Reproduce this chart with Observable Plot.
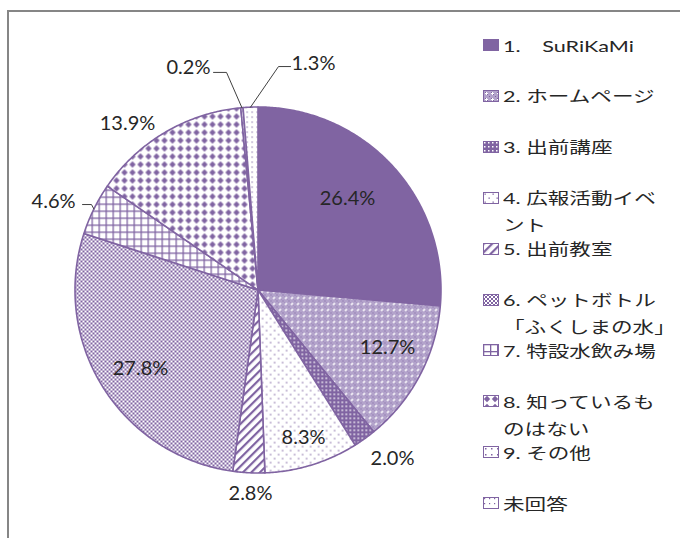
<!DOCTYPE html>
<html><head><meta charset="utf-8">
<script src="https://cdn.jsdelivr.net/npm/d3@7"></script>
<script src="https://cdn.jsdelivr.net/npm/@observablehq/plot@0.6"></script>
<style>
html,body{margin:0;padding:0;background:#fff;overflow:hidden;}
#wrap{position:relative;width:680px;height:538px;overflow:hidden;}
#frame{position:absolute;left:7px;top:10px;width:720px;height:600px;border:2px solid #868686;box-sizing:border-box;}
#chart{position:absolute;left:0;top:0;}
#legend{position:absolute;left:483px;top:0;}
.item{position:absolute;left:0;height:12px;}
.sw{position:absolute;left:0;top:0;display:block;}
.lab{position:absolute;left:20px;top:-7.5px;white-space:pre;font-family:Lato,'Noto Sans CJK JP',sans-serif;font-size:16px;font-weight:400;line-height:27px;transform:scaleX(1.35);transform-origin:0 0;color:#262626;}
</style></head>
<body>
<div id="wrap"><div id="frame"></div><div id="chart"></div><div id="legend"></div></div>
<script>
// ---- data ----
const categories = ["1.\u3000SuRiKaMi", "2. ホームページ", "3. 出前講座", "4. 広報活動イベ\nント", "5. 出前教室", "6. ペットボトル\n「ふくしまの水」", "7. 特設水飲み場", "8. 知っているも\nのはない", "9. その他", "未回答"];
const values = [26.4, 12.7, 2.0, 8.3, 2.8, 27.8, 4.6, 13.9, 0.2, 1.3];
const valueLabels = values.map(v => v.toFixed(1) + "%");

// ---- layout (label placement in pie-radius units, relative to centre) ----
const labelPos = [[0.489,0.500],[0.708,-0.314],[0.735,-0.921],[0.249,-0.806],[-0.041,-1.112],[-0.642,-0.429],[-1.117,0.484],[-0.713,0.910],[-0.380,1.216],[0.303,1.238]];
const leaders = {6: [[-0.910,0.467],[-0.959,0.467]], 8: [[-0.172,1.189],[-0.243,1.189]], 9: [[0.112,1.221],[0.178,1.221]]};

const PURPLE = "#8064A2";
const W = 470, H = 538, CX = 257.5, CY = 289.5, R = 183;

const total = d3.sum(values);
let acc = 0;
const slicePts = [], mids = [];
values.forEach((v, i) => {
  const a0 = acc / total * 2 * Math.PI; acc += v; const a1 = acc / total * 2 * Math.PI;
  mids.push((a0 + a1) / 2);
  const n = Math.max(2, Math.ceil((a1 - a0) / (Math.PI / 360)));
  slicePts.push({k: i, x: 0, y: 0});
  for (let j = 0; j <= n; j++) { const a = a0 + (a1 - a0) * j / n; slicePts.push({k: i, x: Math.sin(a), y: Math.cos(a)}); }
  slicePts.push({k: i, x: 0, y: 0});
});
const labelData = values.map((v, i) => ({x: labelPos[i][0], y: labelPos[i][1], t: valueLabels[i]}));
const leaderPts = [];
Object.entries(leaders).forEach(([k, pts]) => {
  const m = mids[+k];
  leaderPts.push({k: +k, x: Math.sin(m), y: Math.cos(m)});
  pts.forEach(p => leaderPts.push({k: +k, x: p[0], y: p[1]}));
});

const chart = Plot.plot({
  width: W, height: H, margin: 0,
  style: {background: "none", overflow: "visible"},
  x: {domain: [-CX / R, (W - CX) / R], axis: null},
  y: {domain: [-(H - CY) / R, CY / R], axis: null},
  color: {type: "identity"},
  marks: [
    Plot.line(slicePts, {x: "x", y: "y", z: "k", fill: d => `url(#p${d.k})`, stroke: PURPLE, strokeWidth: 1.6, strokeLinejoin: "round", curve: "linear"}),
    Plot.line(leaderPts, {x: "x", y: "y", z: "k", stroke: "#404040", strokeWidth: 1}),
    Plot.text(labelData, {x: "x", y: "y", text: "t", fontSize: 20, fontFamily: "Lato, sans-serif", fill: "#262626"})
  ]
});

const defs = `<defs>
<pattern id="p0" patternUnits="userSpaceOnUse" width="4" height="4"><rect width="4" height="4" fill="${PURPLE}"/></pattern>
<pattern id="p1" patternUnits="userSpaceOnUse" width="6" height="6"><rect width="6" height="6" fill="#b3a3cb"/><rect x="0" y="0" width="1" height="1" fill="${PURPLE}"/><rect x="2" y="2" width="1" height="1" fill="${PURPLE}"/><rect x="4" y="4" width="1" height="1" fill="${PURPLE}"/><rect x="3" y="2" width="1" height="3" fill="#fff"/><rect x="2" y="3" width="3" height="1" fill="#fff"/></pattern>
<pattern id="p2" patternUnits="userSpaceOnUse" width="4" height="4"><rect width="4" height="4" fill="${PURPLE}"/><rect x="1" y="1" width="1.5" height="1.5" fill="#fff"/></pattern>
<pattern id="p3" patternUnits="userSpaceOnUse" width="8" height="8"><rect width="8" height="8" fill="#fff"/><rect x="1.5" y="1.5" width="1.3" height="1.3" fill="${PURPLE}"/><rect x="5.5" y="5.5" width="1.3" height="1.3" fill="${PURPLE}"/></pattern>
<pattern id="p4" patternUnits="userSpaceOnUse" width="6" height="6" patternTransform="rotate(45)"><rect width="6" height="6" fill="#fff"/><rect x="0" y="0" width="2.2" height="6" fill="${PURPLE}"/></pattern>
<pattern id="p5" patternUnits="userSpaceOnUse" width="4" height="4"><rect width="4" height="4" fill="#fff"/><rect x="0" y="0" width="2" height="2" fill="${PURPLE}"/><rect x="2" y="2" width="2" height="2" fill="${PURPLE}"/></pattern>
<pattern id="p6" patternUnits="userSpaceOnUse" width="7" height="7"><rect width="7" height="7" fill="#fff"/><rect x="0" y="0" width="7" height="1.3" fill="${PURPLE}"/><rect x="0" y="0" width="1.3" height="7" fill="${PURPLE}"/></pattern>
<pattern id="p7" patternUnits="userSpaceOnUse" width="8" height="8"><rect width="8" height="8" fill="#fff"/><polygon points="4,0.8 7.2,4 4,7.2 0.8,4" fill="${PURPLE}"/></pattern>
<pattern id="p8" patternUnits="userSpaceOnUse" width="6" height="6"><rect width="6" height="6" fill="#fff"/><rect x="2" y="2" width="1.5" height="1.5" fill="${PURPLE}"/></pattern>
<pattern id="p9" patternUnits="userSpaceOnUse" width="5" height="5"><rect width="5" height="5" fill="#fff"/><rect x="1" y="1" width="1.2" height="1.2" fill="${PURPLE}"/></pattern>
</defs>`;
chart.insertAdjacentHTML("afterbegin", defs);
document.getElementById("chart").appendChild(chart);

// ---- legend ----
const legend = document.getElementById("legend");
categories.forEach((c, i) => {
  const item = document.createElement("div");
  item.className = "item";
  item.style.top = (39 + i * 50.9) + "px";
  item.innerHTML = `<svg class="sw" width="16" height="12"><rect x="0.5" y="0.5" width="15" height="11" fill="url(#p${i})" stroke="${PURPLE}" stroke-width="1"/></svg><div class="lab"></div>`;
  item.querySelector(".lab").textContent = c;
  legend.appendChild(item);
});
</script>
</body></html>
